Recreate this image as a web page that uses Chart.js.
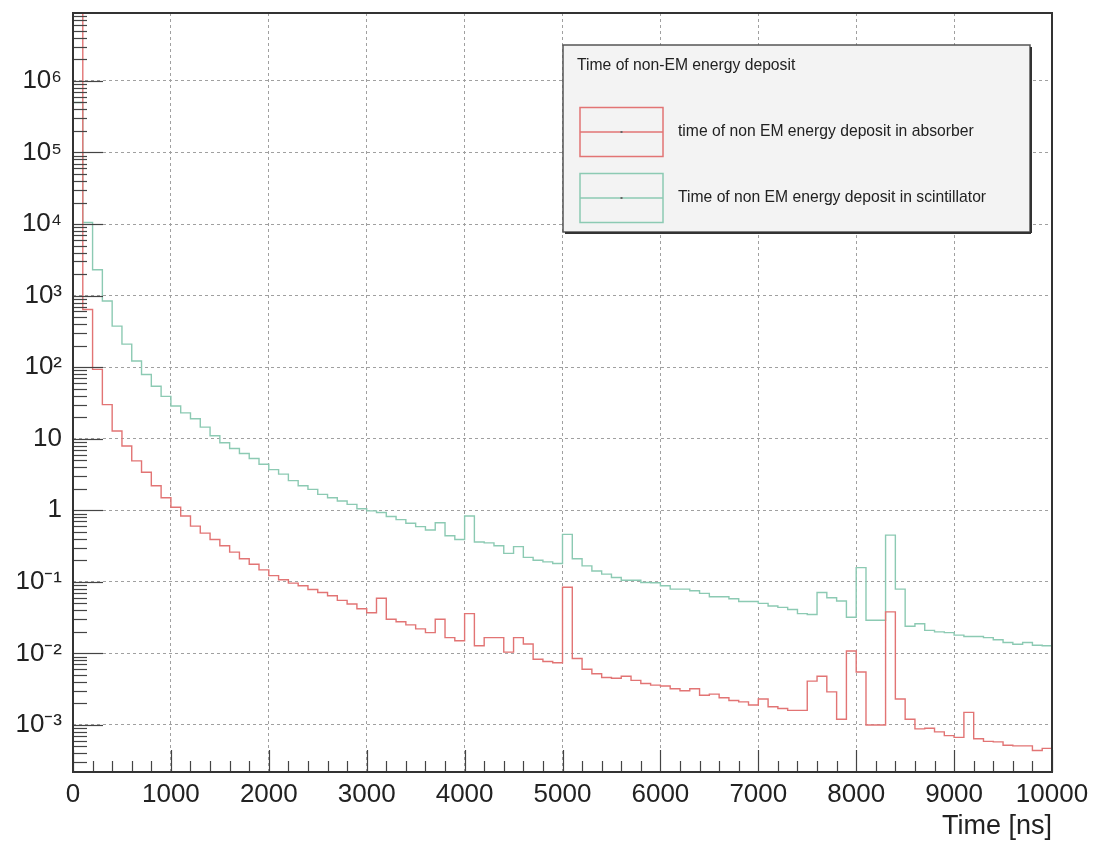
<!DOCTYPE html>
<html><head><meta charset="utf-8">
<script src="https://cdn.jsdelivr.net/npm/chart.js@4.4.1/dist/chart.umd.min.js"></script>
<style>html,body{margin:0;padding:0;background:#fff;}#wrap{width:1097px;height:841px;}</style>
</head><body><div id="wrap"><canvas id="c" width="1097" height="841"></canvas></div>
<script>
// ---- data (100 ns bins, 0 .. 10000 ns) ----
const binWidth = 100;
const binEdges = Array.from({length: 101}, (_, i) => i * binWidth);

const absorberCounts = [
  2e7, 640, 93, 30, 12.8, 7.9, 4.9, 3.4, 2.2, 1.5,
  1.1, 0.83, 0.6, 0.48, 0.39, 0.32, 0.26, 0.21, 0.176, 0.147,
  0.122, 0.107, 0.096, 0.088, 0.078, 0.071, 0.064, 0.055, 0.049, 0.042,
  0.037, 0.059, 0.030, 0.0277, 0.025, 0.022, 0.0195, 0.030, 0.0166, 0.015,
  0.036, 0.0128, 0.0166, 0.0166, 0.0104, 0.0166, 0.0135, 0.0083, 0.0077, 0.0074,
  0.084, 0.0085, 0.006, 0.0052, 0.0046, 0.0045, 0.0048, 0.0042, 0.0038, 0.0036,
  0.0035, 0.0032, 0.0030, 0.0032, 0.0026, 0.0027, 0.0024, 0.0022, 0.0021, 0.0019,
  0.0023, 0.0018, 0.0017, 0.0016, 0.0016, 0.0041, 0.0048, 0.0029, 0.0012, 0.0108,
  0.0055, 0.0010, 0.0010, 0.038, 0.0023, 0.0012, 0.00088, 0.0009, 0.0008, 0.00071,
  0.00067, 0.0015, 0.00064, 0.00059, 0.00058, 0.00052, 0.00051, 0.00051, 0.00044, 0.00047
];

const scintillatorCounts = [
  5e5, 10500, 2300, 840, 375, 210, 122, 79, 54, 39,
  28.6, 23, 19, 14.5, 11, 8.8, 7.3, 6.2, 5.3, 4.4,
  3.7, 3.2, 2.6, 2.2, 1.96, 1.67, 1.5, 1.35, 1.21, 1.05,
  0.98, 0.93, 0.82, 0.74, 0.66, 0.59, 0.53, 0.67, 0.44, 0.39,
  0.83, 0.36, 0.35, 0.32, 0.25, 0.31, 0.22, 0.20, 0.19, 0.18,
  0.46, 0.21, 0.167, 0.142, 0.128, 0.115, 0.105, 0.105, 0.098, 0.097,
  0.088, 0.079, 0.079, 0.075, 0.069, 0.062, 0.062, 0.058, 0.053, 0.053,
  0.05, 0.046, 0.044, 0.041, 0.036, 0.035, 0.071, 0.06, 0.054, 0.032,
  0.158, 0.029, 0.029, 0.45, 0.079, 0.024, 0.026, 0.021, 0.020, 0.0195,
  0.018, 0.0172, 0.0172, 0.0166, 0.0155, 0.0142, 0.0134, 0.0142, 0.013, 0.0128
];

const seriesLabels = [
  'time of non EM energy deposit in absorber',
  'Time of non EM energy deposit in scintillator'
];
const legendTitle = 'Time of non-EM energy deposit';
const xAxisTitle = 'Time [ns]';
const xTickValues = [0, 1000, 2000, 3000, 4000, 5000, 6000, 7000, 8000, 9000, 10000];
const yTickValues = [1e-3, 1e-2, 1e-1, 1, 10, 1e2, 1e3, 1e4, 1e5, 1e6];
const yTickLabels = ['10\u207B\u00B3', '10\u207B\u00B2', '10\u207B\u00B9', '1', '10', '10\u00B2', '10\u00B3', '10\u2074', '10\u2075', '10\u2076'];

// ---- helpers ----
function toSteps(vals) {
  return binEdges.map((x, i) => ({x: x, y: vals[Math.min(i, vals.length - 1)]}));
}

const FONT = "'Liberation Sans', Arial, Helvetica, sans-serif";

const rootDecor = {
  id: 'rootDecor',
  beforeDraw(chart) {
    const ctx = chart.ctx;
    ctx.save();
    ctx.fillStyle = '#ffffff';
    ctx.fillRect(0, 0, chart.width, chart.height);
    ctx.restore();
  },
  afterDraw(chart) {
    const {ctx, chartArea: a, scales: {x, y}} = chart;
    ctx.save();
    const line = (x1, y1, x2, y2) => { ctx.beginPath(); ctx.moveTo(x1, y1); ctx.lineTo(x2, y2); ctx.stroke(); };
    // y ticks (log: majors at decades, minors 2..9)
    ctx.strokeStyle = '#444'; ctx.lineWidth = 1.2;
    for (let e = -5; e <= 8; e++) {
      for (let m = 1; m <= 9; m++) {
        const v = m * Math.pow(10, e);
        if (v < y.min || v > y.max) continue;
        const py = Math.round(y.getPixelForValue(v)) + 0.5;
        line(a.left, py, a.left + (m === 1 ? 30 : 14), py);
      }
    }
    // x ticks
    for (let t = x.min; t <= x.max; t += 200) {
      const px = Math.round(x.getPixelForValue(t)) + 0.5;
      line(px, a.bottom, px, a.bottom - (t % 1000 === 0 ? 22 : 11));
    }
    // frame
    ctx.strokeStyle = '#333'; ctx.lineWidth = 2;
    ctx.strokeRect(a.left, a.top, a.right - a.left, a.bottom - a.top);

    // legend box
    const L = a.left + 490, T = a.top + 32, W = 467, H = 187;
    ctx.fillStyle = '#f3f3f3';
    ctx.fillRect(L, T, W, H);
    ctx.strokeStyle = '#555'; ctx.lineWidth = 1.5;
    ctx.strokeRect(L, T, W, H);
    ctx.strokeStyle = '#333'; ctx.lineWidth = 2;
    line(L + 2, T + H + 1, L + W + 1, T + H + 1);
    line(L + W + 1, T + 2, L + W + 1, T + H + 1);

    ctx.fillStyle = '#222';
    ctx.font = '15.7px ' + FONT;
    ctx.textBaseline = 'middle';
    ctx.textAlign = 'left';
    ctx.fillText(legendTitle, L + 14, T + 21);

    const rows = [T + 87, T + 153];
    chart.data.datasets.forEach((ds, i) => {
      const cy = rows[i];
      const bx = L + 17, bw = 83, bh = 49;
      ctx.strokeStyle = ds.borderColor; ctx.lineWidth = 1.5;
      ctx.strokeRect(bx, cy - bh / 2, bw, bh);
      line(bx, cy, bx + bw, cy);
      ctx.fillStyle = '#666';
      ctx.fillRect(bx + bw / 2 - 1, cy - 1, 2, 2);
      ctx.fillStyle = '#222';
      ctx.fillText(ds.label, L + 115, cy);
    });
    ctx.restore();
  }
};

const zeroPad = (s) => { s.paddingTop = 0; s.paddingBottom = 0; s.paddingLeft = 0; s.paddingRight = 0; };

new Chart(document.getElementById('c'), {
  type: 'line',
  data: {
    datasets: [
      {
        label: seriesLabels[0],
        data: toSteps(absorberCounts),
        borderColor: '#e27474',
        borderWidth: 1.4,
        pointRadius: 0,
        stepped: true,
        fill: false
      },
      {
        label: seriesLabels[1],
        data: toSteps(scintillatorCounts),
        borderColor: '#8ccab3',
        borderWidth: 1.4,
        pointRadius: 0,
        stepped: true,
        fill: false
      }
    ]
  },
  options: {
    responsive: false,
    devicePixelRatio: 1,
    animation: false,
    events: [],
    layout: {padding: {left: 0, right: 45, top: 13, bottom: 0}},
    plugins: {legend: {display: false}, tooltip: {enabled: false}, title: {display: false}},
    scales: {
      x: {
        type: 'linear',
        min: 0,
        max: 10000,
        afterBuildTicks: (s) => { s.ticks = xTickValues.map(v => ({value: v})); },
        afterFit: (s) => { s.height = 69; zeroPad(s); },
        ticks: {
          autoSkip: false,
          maxRotation: 0,
          padding: 7,
          color: '#222',
          font: {family: FONT, size: 26},
          callback: (v) => String(v)
        },
        grid: {color: '#a0a0a0', lineWidth: 1, drawTicks: false},
        border: {display: false, dash: [3, 3]},
        title: {
          display: true,
          text: xAxisTitle,
          align: 'end',
          color: '#222',
          font: {family: FONT, size: 27, lineHeight: 1},
          padding: {top: 0, bottom: 1}
        }
      },
      y: {
        type: 'logarithmic',
        min: 2.2e-4,
        max: 8.9e6,
        afterBuildTicks: (s) => { s.ticks = yTickValues.map(v => ({value: v})); },
        afterFit: (s) => { s.width = 73; zeroPad(s); },
        ticks: {
          autoSkip: false,
          padding: 11,
          color: '#222',
          font: {family: FONT, size: 26},
          callback: (v) => { const i = yTickValues.findIndex(t => Math.abs(Math.log10(t) - Math.log10(v)) < 1e-6); return i >= 0 ? yTickLabels[i] : ''; }
        },
        grid: {color: '#a0a0a0', lineWidth: 1, drawTicks: false},
        border: {display: false, dash: [3, 3]}
      }
    }
  },
  plugins: [rootDecor]
});
</script>
</body></html>
